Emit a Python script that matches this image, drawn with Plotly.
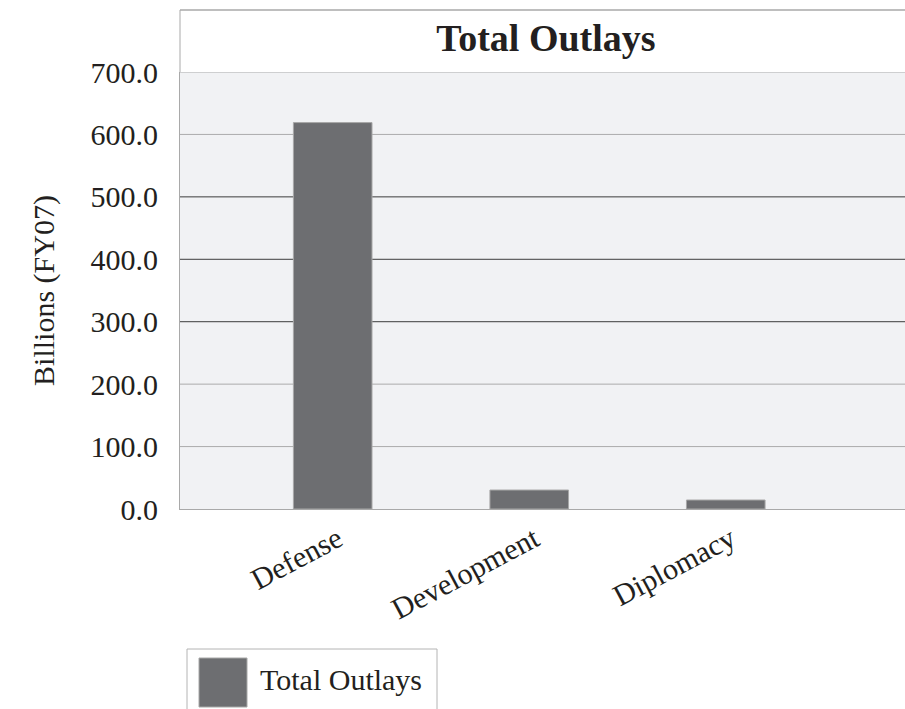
import plotly.graph_objects as go

# Outlay totals by category, billions of FY07 dollars
categories = ["Defense", "Development", "Diplomacy"]
outlays = [619.0, 30.4, 14.4]
y_ticks = [0, 100, 200, 300, 400, 500, 600, 700]
dark_grid_ticks = [300, 400, 500]
series_name = "Total Outlays"

W, H = 905, 709
L, R, T, B = 180, 0, 72, 200
FONT = "Liberation Serif"
TXT = "#231f20"
BAR = "#6d6e71"
FRAME = "#a9a9a9"

plot_w = W - L - R
plot_h = H - T - B


def px_x(px):
    return (px - L) / plot_w


def px_y(py):
    return (H - B - py) / plot_h


fig = go.Figure()
fig.add_trace(go.Bar(
    x=list(range(len(categories))),
    y=outlays,
    name=series_name,
    width=0.40,
    marker=dict(color=BAR, line=dict(color="#a8a8a8", width=1)),
    showlegend=False,
))

fig.update_layout(
    width=W, height=H,
    margin=dict(l=L, r=R, t=T, b=B, pad=0),
    paper_bgcolor="white",
    plot_bgcolor="#f1f2f4",
    font=dict(family=FONT, color=TXT, size=30),
    title=dict(
        text="<b>Total Outlays</b>",
        font=dict(family=FONT, size=38, color=TXT),
        x=(546 - L) / plot_w, xref="paper", xanchor="center",
        y=1 - 38 / H, yref="container", yanchor="middle",
    ),
    xaxis=dict(
        tickmode="array",
        tickvals=list(range(len(categories))),
        ticktext=categories,
        range=[-0.777, 2.912],
        tickangle=-28,
        ticklabelstandoff=0,
        ticklabelshift=5,
        showgrid=False,
        showline=True, linecolor=FRAME, linewidth=1,
        ticks="", zeroline=False,
        tickfont=dict(size=30, color=TXT),
    ),
    yaxis=dict(
        range=[0, 700],
        tickmode="array",
        tickvals=y_ticks,
        tickformat=".1f",
        showgrid=False,
        showline=True, linecolor=FRAME, linewidth=1,
        ticks="", zeroline=False,
        ticklabelstandoff=15,
        tickfont=dict(size=30, color=TXT),
        title=dict(text="Billions (FY07)", font=dict(size=30, color=TXT), standoff=27),
    ),
    showlegend=False,
)

# Horizontal rules at each y tick, darker through the middle, beneath the bars
for v in y_ticks[1:]:
    color = "#3c3c3c" if v in dark_grid_ticks else "#ababab"
    fig.add_shape(type="line", xref="x domain", yref="y", layer="below",
                  x0=0, x1=1, y0=v, y1=v,
                  line=dict(color=color, width=1))

# Chart frame around the title area
fig.add_shape(type="line", xref="paper", yref="paper",
              x0=0, x1=1, y0=px_y(10), y1=px_y(10),
              line=dict(color=FRAME, width=1.5))
fig.add_shape(type="line", xref="paper", yref="paper",
              x0=0, x1=0, y0=px_y(10), y1=1,
              line=dict(color=FRAME, width=1))

# Legend box with large swatch
fig.add_shape(type="rect", xref="paper", yref="paper",
              x0=px_x(187), x1=px_x(437), y0=px_y(649), y1=px_y(730),
              line=dict(color="#b4b4b4", width=1), fillcolor="white")
fig.add_shape(type="rect", xref="paper", yref="paper",
              x0=px_x(199), x1=px_x(247), y0=px_y(658), y1=px_y(707),
              line=dict(color="#a8a8a8", width=1), fillcolor=BAR)
fig.add_annotation(text=series_name, xref="paper", yref="paper",
                   x=px_x(258), y=px_y(679), xanchor="left", yanchor="middle",
                   showarrow=False, font=dict(size=30, color=TXT))

fig.write_html("out.html")
